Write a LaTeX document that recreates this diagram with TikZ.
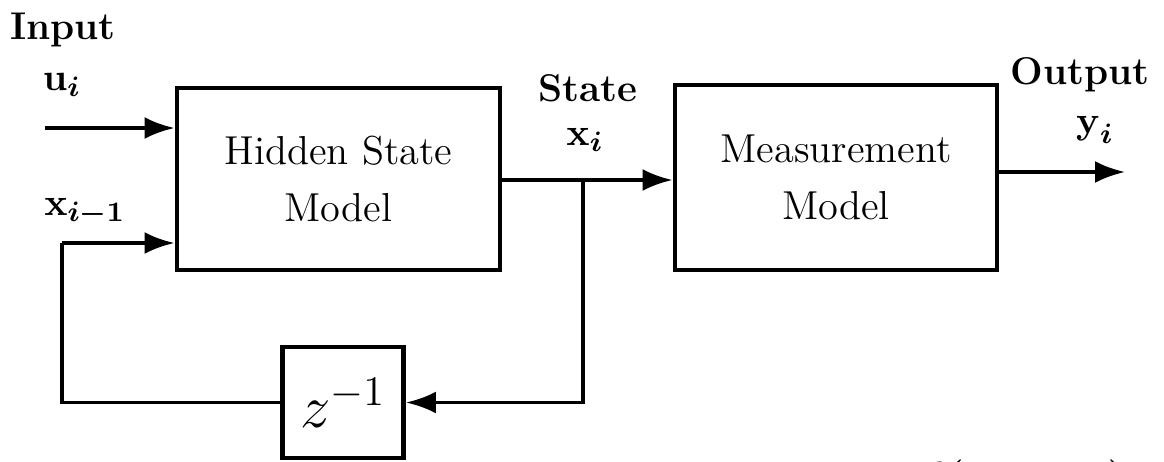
\documentclass[tikz,border=0pt]{standalone}
\usepackage{amsmath, amssymb, bm}
\usepackage{tikz}
\usetikzlibrary{arrows.meta, positioning}

\begin{document}
\begin{tikzpicture}[
                block/.style={draw, line width=1.4pt, align=center, font=\fontsize{11.5}{16}\selectfont},
                wire/.style={line width=1.1pt},
                edge/.style={wire, -{Latex[length=3mm, width=2.2mm]}},
                lbl/.style={font=\bfseries\fontsize{11}{13}\selectfont}
            ]
            \clip (0,0) rectangle (11.64,4.61);

            % the two model blocks and the unit delay
            \node[block, minimum width=3.23cm, minimum height=1.82cm] (hidden) at (3.385,2.82) {Hidden State\\Model};
            \node[block, minimum width=3.22cm, minimum height=1.85cm] (meas) at (8.36,2.835) {Measurement\\Model};
            \node[block, minimum width=1.21cm, minimum height=1.11cm, font=\LARGE] (delay) at (3.43,0.585) {$z^{-1}$};

            % free ends and corners of the wires
            \coordinate (uin) at (0.45,3.33);
            \coordinate (branch) at (5.83,2.81);
            \coordinate (back) at (0.62,2.18);
            \coordinate (yout) at (11.25,2.89);

            % text around the blocks
            \node[lbl] (input) at (0.63,4.31) {Input};
            \node[lbl] (u) at (0.62,3.76) {$\boldsymbol{\mathbf{u}_i}$};
            \node[lbl] (xprev) at (0.85,2.49) {$\boldsymbol{\mathbf{x}_{i-1}}$};
            \node[lbl] (state) at (5.88,3.73) {State};
            \node[lbl] (x) at (5.85,3.21) {$\boldsymbol{\mathbf{x}_i}$};
            \node[lbl] (output) at (10.80,3.86) {Output};
            \node[lbl] (y) at (10.95,3.31) {$\boldsymbol{\mathbf{y}_i}$};
            \node[lbl, anchor=base west, font=\large] (eq) at (8.15,-0.30)
                {$\boldsymbol{\mathbf{x}_i = \mathbf{f}(\mathbf{x}_{i-1}, \mathbf{u}_i)}$};

            \draw[edge] (uin) -- (uin -| hidden.west);
            \draw[edge] (hidden.east |- branch) -- (meas.west |- branch);
            \draw[edge] (meas.east |- yout) -- (yout);
            \draw[edge] (branch) |- (delay.east);
            \draw[wire] (delay.west) -| (back);
            \draw[edge] (back) -- (back -| hidden.west);
            \end{tikzpicture}
\end{document}
